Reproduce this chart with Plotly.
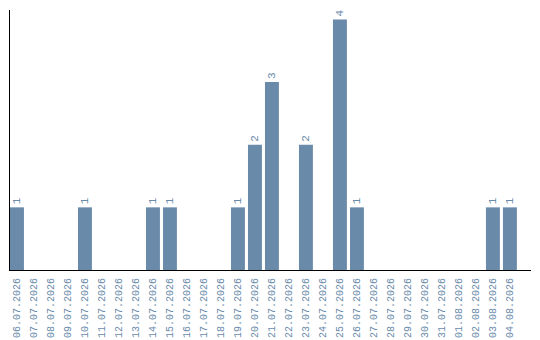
import plotly.graph_objects as go

dates = [
    "06.07.2026", "07.07.2026", "08.07.2026", "09.07.2026", "10.07.2026",
    "11.07.2026", "12.07.2026", "13.07.2026", "14.07.2026", "15.07.2026",
    "16.07.2026", "17.07.2026", "18.07.2026", "19.07.2026", "20.07.2026",
    "21.07.2026", "22.07.2026", "23.07.2026", "24.07.2026", "25.07.2026",
    "26.07.2026", "27.07.2026", "28.07.2026", "29.07.2026", "30.07.2026",
    "31.07.2026", "01.08.2026", "02.08.2026", "03.08.2026", "04.08.2026",
]
counts = [1, 0, 0, 0, 1, 0, 0, 0, 1, 1, 0, 0, 0, 1, 2,
          3, 0, 2, 0, 4, 1, 0, 0, 0, 0, 0, 0, 0, 1, 1]

BAR = "#6a8aaa"
FONT = "Liberation Mono"

labels = [str(c) if c > 0 else "" for c in counts]

fig = go.Figure(go.Bar(
    x=list(range(len(dates))),
    y=counts,
    marker=dict(color=BAR, line=dict(width=0)),
    text=labels,
    textposition="outside",
    textangle=-90,
    textfont=dict(family=FONT, size=11, color=BAR),
    cliponaxis=False,
))

fig.update_layout(
    width=540, height=340,
    margin=dict(l=10, r=9, t=10, b=70, autoexpand=False),
    paper_bgcolor="white", plot_bgcolor="white",
    bargap=0.18,
    showlegend=False,
    xaxis=dict(
        range=[-0.41, 30.24],
        tickmode="array",
        tickvals=list(range(len(dates))),
        ticktext=dates,
        tickangle=-90,
        tickfont=dict(family=FONT, size=10, color=BAR),
        showgrid=False, zeroline=False,
        showline=True, linecolor="black", linewidth=1,
        ticks="outside", ticklen=3, tickcolor="rgba(0,0,0,0)",
        automargin=False,
    ),
    yaxis=dict(
        range=[0, 4.15],
        showticklabels=False,
        showgrid=False, zeroline=False,
        showline=True, linecolor="black", linewidth=1,
        ticks="", automargin=False,
    ),
)

fig.write_html("out.html")
